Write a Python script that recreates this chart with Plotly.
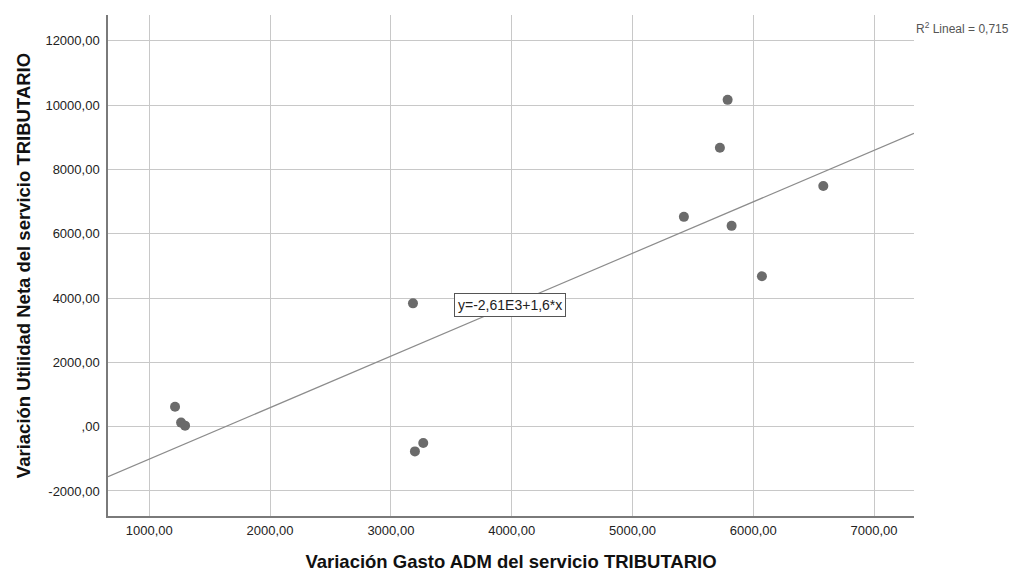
import plotly.graph_objects as go
import numpy as np

# Data
gasto_adm = [1213, 1263, 1296, 3183, 3199, 3268, 5426, 5724, 5788, 5821, 6072, 6580]
utilidad_neta = [620, 125, 31, 3834, -770, -508, 6524, 8675, 10162, 6244, 4676, 7481]

fit_intercept = -2610
fit_slope = 1.6
r2_text = "R<sup>2</sup> Lineal = 0,715"
eq_text = "y=-2,61E3+1,6*x"

x_ticks = [1000, 2000, 3000, 4000, 5000, 6000, 7000]
x_tick_labels = ["1000,00", "2000,00", "3000,00", "4000,00", "5000,00", "6000,00", "7000,00"]
y_ticks = [-2000, 0, 2000, 4000, 6000, 8000, 10000, 12000]
y_tick_labels = ["-2000,00", ",00", "2000,00", "4000,00", "6000,00", "8000,00", "10000,00", "12000,00"]

x_range = [658, 7331]
y_range = [-2779, 12801]

fit_x = np.array(x_range, dtype=float)
fit_y = fit_intercept + fit_slope * fit_x

fig = go.Figure()
fig.add_trace(go.Scatter(
    x=fit_x, y=fit_y, mode="lines",
    line=dict(color="#8c8c8c", width=1.2),
    hoverinfo="skip", showlegend=False,
))
fig.add_trace(go.Scatter(
    x=gasto_adm, y=utilidad_neta, mode="markers",
    marker=dict(color="#6b6b6b", size=10, line=dict(width=0)),
    showlegend=False,
))

fig.add_annotation(
    x=3522, y=3772, xref="x", yref="y", text=eq_text, showarrow=False,
    xanchor="left", yanchor="middle",
    font=dict(family="Liberation Sans, Arial", size=14, color="#222222"),
    bgcolor="white", bordercolor="#555555", borderwidth=1, borderpad=3,
)
fig.add_annotation(
    x=1.0, y=1, xref="paper", yref="paper", text=r2_text, showarrow=False,
    xanchor="left", yanchor="top", xshift=0, yshift=-3,
    font=dict(family="Liberation Sans, Arial", size=12, color="#555555"),
)

axis_font = dict(family="Liberation Sans, Arial", size=13, color="#222222")
title_font = dict(family="Liberation Sans, Arial", size=18.5, color="#111111")

fig.update_xaxes(
    range=x_range, tickvals=x_ticks, ticktext=x_tick_labels,
    showgrid=True, gridcolor="#c8c8c8", gridwidth=1,
    showline=True, linecolor="#7a7a7a", linewidth=1.5,
    zeroline=False, ticks="outside", ticklen=2, tickcolor="rgba(0,0,0,0)",
    tickfont=axis_font,
    title=dict(text="<b>Variación Gasto ADM del servicio TRIBUTARIO</b>", font=title_font, standoff=18),
)
fig.update_yaxes(
    range=y_range, tickvals=y_ticks, ticktext=y_tick_labels,
    showgrid=True, gridcolor="#c8c8c8", gridwidth=1,
    showline=True, linecolor="#7a7a7a", linewidth=1.5,
    zeroline=False, ticks="outside", ticklen=4, tickcolor="rgba(0,0,0,0)",
    tickfont=axis_font,
    title=dict(text="<b>Variación Utilidad Neta del servicio TRIBUTARIO</b>", font=title_font, standoff=10),
)

fig.update_layout(
    width=1018, height=572,
    margin=dict(l=100, r=112, t=7, b=64),
    plot_bgcolor="white", paper_bgcolor="white",
)

fig.write_html("out.html")
